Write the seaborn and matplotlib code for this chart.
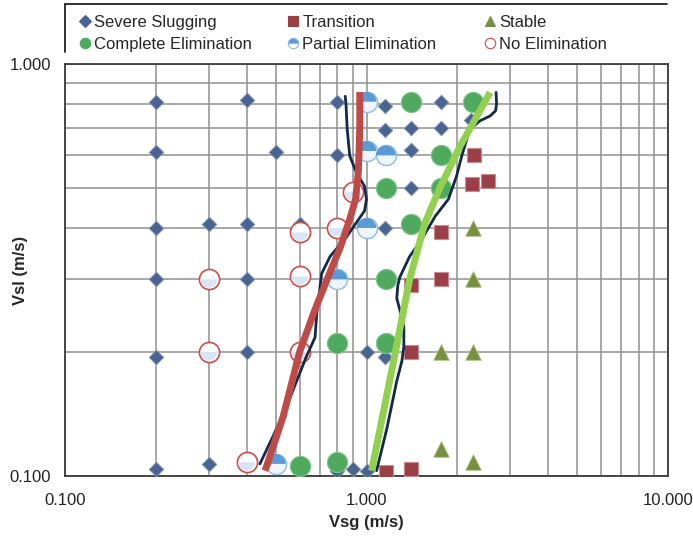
import matplotlib
matplotlib.use("Agg")
import matplotlib.pyplot as plt
from matplotlib.lines import Line2D
from matplotlib.markers import MarkerStyle
from matplotlib.ticker import NullFormatter, FixedLocator
import pandas as pd
import seaborn as sns

# ---- flow regime observations (superficial gas / liquid velocity, m/s) ----
slug_vsg = [0.2, 0.4, 0.8, 1.15, 1.15, 1.4, 1.76, 2.22, 1.76,
            0.2, 0.5, 0.8, 1.4, 1.4,
            0.2, 0.3, 0.4, 0.6, 1.15,
            0.2, 0.4, 0.2, 0.4, 1.0, 1.15,
            0.2, 0.3, 0.8, 0.9, 1.0]
slug_vsl = [0.81, 0.82, 0.81, 0.79, 0.69, 0.70, 0.70, 0.73, 0.81,
            0.61, 0.61, 0.60, 0.62, 0.50,
            0.40, 0.41, 0.41, 0.41, 0.40,
            0.30, 0.30, 0.195, 0.20, 0.20, 0.195,
            0.104, 0.107, 0.103, 0.104, 0.103]

trans_vsg = [2.28, 2.23, 2.53, 1.77, 1.77, 1.41, 1.41, 1.16, 1.41]
trans_vsl = [0.60, 0.51, 0.52, 0.39, 0.30, 0.29, 0.20, 0.102, 0.104]

stable_vsg = [2.26, 2.26, 1.77, 2.26, 1.77, 2.26]
stable_vsl = [0.40, 0.30, 0.20, 0.20, 0.116, 0.108]

complete_vsg = [1.41, 2.26, 1.77, 1.16, 1.77, 1.41, 1.16, 1.16, 0.8, 0.6, 0.8]
complete_vsl = [0.81, 0.81, 0.60, 0.50, 0.50, 0.41, 0.30, 0.21, 0.21, 0.106, 0.108]

partial_vsg = [1.0, 1.0, 1.16, 1.0, 0.8, 0.5]
partial_vsl = [0.81, 0.615, 0.60, 0.40, 0.30, 0.107]

none_vsg = [0.9, 0.8, 0.6, 0.3, 0.6, 0.3, 0.6, 0.4]
none_vsl = [0.49, 0.40, 0.39, 0.30, 0.305, 0.20, 0.20, 0.108]

# ---- regime boundaries ----
bound_lo_vsg = [0.461, 0.53, 0.60, 0.67, 0.74, 0.82, 0.88, 0.92, 0.94, 0.95, 0.95]
bound_lo_vsl = [0.103, 0.14, 0.20, 0.25, 0.30, 0.36, 0.42, 0.47, 0.55, 0.70, 0.855]

model_lo_vsg = [0.443, 0.53, 0.63, 0.675, 0.684, 0.71, 0.757, 0.86, 0.94, 0.985, 1.0, 0.985,
                0.927, 0.88, 0.863, 0.855, 0.85]
model_lo_vsl = [0.107, 0.141, 0.194, 0.217, 0.248, 0.31, 0.341, 0.381, 0.419, 0.44, 0.47, 0.505,
                0.544, 0.598, 0.694, 0.80, 0.835]

bound_hi_vsg = [1.04, 1.23, 1.39, 1.56, 1.75, 2.04, 2.57]
bound_hi_vsl = [0.103, 0.19, 0.30, 0.41, 0.50, 0.63, 0.853]

model_hi_vsg = [1.08, 1.17, 1.26, 1.31, 1.33, 1.33, 1.29, 1.26, 1.27, 1.29, 1.39, 1.52, 1.69,
                1.87, 1.99, 2.07, 2.20, 2.38, 2.57, 2.68, 2.70, 2.69]
model_hi_vsl = [0.103, 0.131, 0.17, 0.19, 0.206, 0.23, 0.253, 0.27, 0.29, 0.304, 0.341, 0.374,
                0.427, 0.47, 0.535, 0.598, 0.694, 0.728, 0.748, 0.77, 0.80, 0.853]

x_ticks = [0.1, 1.0, 10.0]
x_tick_labels = ["0.100", "1.000", "10.000"]
y_ticks = [0.1, 1.0]
y_tick_labels = ["0.100", "1.000"]

# ---- styling ----
sns.set_style("white")
plt.rcParams["font.family"] = ["Liberation Sans", "DejaVu Sans"]

C_SLUG = "#4a6491"
C_TRANS = "#9b3f47"
C_STABLE = "#77903f"
C_COMPLETE = "#4fa95e"
C_PART = "#5b9bd5"
C_NONE = "#d04a4a"
C_RED = "#bf4b48"
C_NAVY = "#13294b"
C_LIME = "#92d050"

W, H = 693, 539
fig = plt.figure(figsize=(W / 100, H / 100), dpi=100)
ax = fig.add_axes([65 / W, 1 - 476 / H, (668 - 65) / W, (476 - 64) / H])
ax.set_xscale("log")
ax.set_yscale("log")
ax.set_xlim(0.1, 10)
ax.set_ylim(0.1, 1.0)

def frame(x, y, label):
    return pd.DataFrame({"Vsg": x, "Vsl": y, "regime": label})

# solid markers
sns.scatterplot(data=frame(slug_vsg, slug_vsl, "Severe Slugging"), x="Vsg", y="Vsl",
                marker="D", s=55, color=C_SLUG, edgecolor="#7f93b8", linewidth=0.6,
                ax=ax, zorder=3, legend=False)
sns.scatterplot(data=frame(trans_vsg, trans_vsl, "Transition"), x="Vsg", y="Vsl",
                marker="s", s=115, color=C_TRANS, edgecolor="#c98a90", linewidth=0.8,
                ax=ax, zorder=3, legend=False)
sns.scatterplot(data=frame(stable_vsg, stable_vsl, "Stable"), x="Vsg", y="Vsl",
                marker="^", s=125, color=C_STABLE, edgecolor="#a8bb7c", linewidth=0.6,
                ax=ax, zorder=3, legend=False)
sns.scatterplot(data=frame(complete_vsg, complete_vsl, "Complete Elimination"), x="Vsg", y="Vsl",
                marker="o", s=210, color=C_COMPLETE, edgecolor="#7cc487", linewidth=0.8,
                ax=ax, zorder=3, legend=False)

# half-shaded circles: white body plus a tinted half on top
sns.scatterplot(data=frame(partial_vsg, partial_vsl, "Partial Elimination"), x="Vsg", y="Vsl",
                marker="o", s=210, color="#eef5fc", edgecolor="#8bbbe8", linewidth=1.0,
                ax=ax, zorder=3, legend=False)
ax.scatter(partial_vsg, partial_vsl, marker=MarkerStyle("o", fillstyle="top"), s=200,
           color=C_PART, edgecolors="none", zorder=3.1)
sns.scatterplot(data=frame(none_vsg, none_vsl, "No Elimination"), x="Vsg", y="Vsl",
                marker="o", s=210, color="white", edgecolor=C_NONE, linewidth=1.2,
                ax=ax, zorder=3, legend=False)
ax.scatter(none_vsg, none_vsl, marker=MarkerStyle("o", fillstyle="bottom"), s=150,
           color="#d6e6f7", edgecolors="none", zorder=3.1)

# boundary curves
sns.lineplot(x=model_lo_vsg, y=model_lo_vsl, sort=False, estimator=None, color=C_NAVY,
             lw=2.0, ax=ax, zorder=4)
sns.lineplot(x=model_hi_vsg, y=model_hi_vsl, sort=False, estimator=None, color=C_NAVY,
             lw=2.0, ax=ax, zorder=4)
sns.lineplot(x=bound_lo_vsg, y=bound_lo_vsl, sort=False, estimator=None, color=C_RED,
             lw=5.0, ax=ax, zorder=5, solid_capstyle="butt")
sns.lineplot(x=bound_hi_vsg, y=bound_hi_vsl, sort=False, estimator=None, color=C_LIME,
             lw=5.0, ax=ax, zorder=5, solid_capstyle="butt")

# axes, ticks, grid, labels
ax.set_xticks(x_ticks)
ax.set_xticklabels(x_tick_labels)
ax.set_yticks(y_ticks)
ax.set_yticklabels(y_tick_labels)
ax.xaxis.set_minor_locator(FixedLocator([m * d for d in (0.1, 1.0) for m in range(2, 10)]))
ax.yaxis.set_minor_locator(FixedLocator([m * 0.1 for m in range(2, 10)]))
ax.xaxis.set_minor_formatter(NullFormatter())
ax.yaxis.set_minor_formatter(NullFormatter())
ax.grid(True, which="both", color="#8f8f8f", lw=1.1, zorder=0)
ax.set_axisbelow(True)
ax.tick_params(which="both", length=0, labelsize=12, colors="#222222")
ax.tick_params(axis="x", pad=12)
ax.tick_params(axis="y", pad=10)
ax.set_xlabel("Vsg (m/s)", fontsize=12, fontweight="bold")
ax.set_ylabel("Vsl (m/s)", fontsize=12, fontweight="bold")
ax.xaxis.set_label_coords(0.5, -(523 - 476) / (476 - 64))
ax.yaxis.set_label_coords(-(65 - 20) / (668 - 65), 0.5)
ax.xaxis.label.set_va("center")
ax.yaxis.label.set_va("center")
for sp in ax.spines.values():
    sp.set_visible(True)
    sp.set_color("#3a3a3a")
    sp.set_linewidth(1.3)

# legend, three columns of two entries each
def handle(marker, face, edge, size, fill="full", alt="none"):
    return Line2D([], [], ls="none", marker=marker, markersize=size, markerfacecolor=face,
                  markeredgecolor=edge, fillstyle=fill, markerfacecoloralt=alt,
                  markeredgewidth=0.8)

cols = [
    ([handle("D", C_SLUG, C_SLUG, 6), handle("o", C_COMPLETE, C_COMPLETE, 7.5)],
     ["Severe Slugging", "Complete Elimination"], 67),
    ([handle("s", C_TRANS, C_TRANS, 7.5), handle("o", C_PART, "#8bbbe8", 7.5, "top", "white")],
     ["Transition", "Partial Elimination"], 275),
    ([handle("^", C_STABLE, C_STABLE, 7.5), handle("o", "white", C_NONE, 7.5)],
     ["Stable", "No Elimination"], 472),
]
for handles, labels, xpix in cols:
    fig.legend(handles, labels, loc="upper left", bbox_to_anchor=(xpix / W, 1 - 3 / H),
               frameon=False, fontsize=12, handlelength=0.8, handletextpad=0.15,
               labelspacing=0.42, borderpad=0.2)

fig.add_artist(Line2D([65 / W, 667 / W], [1 - 4 / H, 1 - 4 / H], color="#222222", lw=1.3))
fig.add_artist(Line2D([65 / W, 65 / W], [1 - 4 / H, 1 - 52 / H], color="#222222", lw=1.3))

fig.savefig("out.png", dpi=100)
